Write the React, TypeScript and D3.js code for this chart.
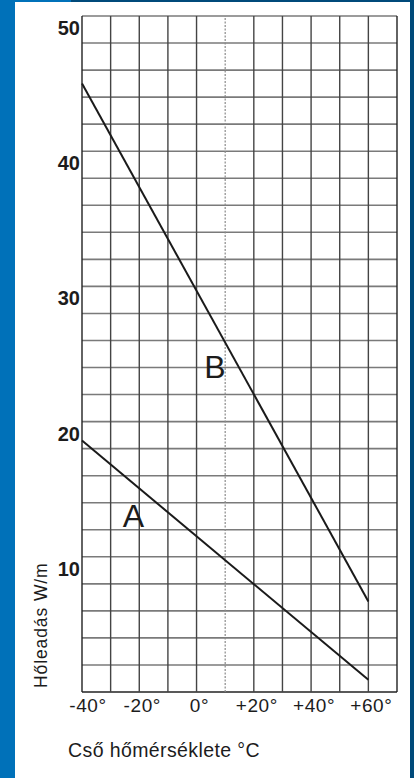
import React, { useEffect, useRef } from "react";
import * as d3 from "d3";

// temperatures (°C) at the ends of each line
const lineTemps = [-40, 60];
const seriesA = [18.6, 0.9];
const seriesB = [45, 6.7];

const xTicks = [-40, -20, 0, 20, 40, 60];
const xTickLabels = ["-40°", "-20°", "0°", "+20°", "+40°", "+60°"];
const yTicks = [10, 20, 30, 40, 50];

const seriesNames = ["A", "B"];
const labelTemps = [-22, 6.4];
const labelValues = [12.2, 23.2];

const xTitle = "Cső hőmérséklete °C";
const yTitle = "Hőleadás W/m";

const App = () => {
    const svgRef = useRef<SVGSVGElement>(null);

    useEffect(() => {
        const svg = d3.select(svgRef.current);
        svg.selectAll("*").remove();

        const width = 414, height = 778;
        const margin = { top: 16, right: 17, bottom: 86, left: 82 };
        const font = "'Liberation Sans', Arial, sans-serif";
        const ink = "#1c1c1c";

        // frame
        svg.append("rect").attr("width", width).attr("height", height).attr("fill", "#fff");
        svg.append("rect").attr("x", 0).attr("y", 0).attr("width", 15).attr("height", height).attr("fill", "#0071b9");
        svg.append("rect").attr("x", 0).attr("y", 0).attr("width", 71).attr("height", 2).attr("fill", "#0071b9");
        svg.append("rect").attr("x", 71).attr("y", 0).attr("width", width - 71).attr("height", 2).attr("fill", "#004a7a");
        svg.append("rect").attr("x", 410).attr("y", 0).attr("width", 4).attr("height", height).attr("fill", "#004a7a");

        const x = d3.scaleLinear().domain([-40, 70]).range([margin.left, width - margin.right]);
        const y = d3.scaleLinear().domain([0, 50]).range([height - margin.bottom, margin.top]);

        // horizontal grid
        svg.append("g")
            .selectAll("line")
            .data(d3.range(0, 51, 2))
            .join("line")
            .attr("x1", x(-40)).attr("x2", x(70))
            .attr("y1", d => y(d)).attr("y2", d => y(d))
            .attr("stroke", d => d === 0 ? "#222" : "#7a7a7a")
            .attr("stroke-width", d => d === 0 ? 1.4 : 1.6);

        // vertical grid
        svg.append("g")
            .selectAll("line")
            .data(d3.range(-40, 71, 10))
            .join("line")
            .attr("x1", d => x(d)).attr("x2", d => x(d))
            .attr("y1", y(0)).attr("y2", y(50))
            .attr("stroke", d => d === 10 ? "#8a8a8a" : (d === -40 || d === 70 ? "#222" : "#444"))
            .attr("stroke-width", d => d === 10 ? 1.2 : 1.4)
            .attr("stroke-dasharray", d => d === 10 ? "2,1.5" : null);

        // y tick labels
        svg.append("g")
            .selectAll("text")
            .data(yTicks)
            .join("text")
            .attr("x", x(-40) - 2)
            .attr("y", d => y(d) + 19)
            .attr("text-anchor", "end")
            .attr("font-family", font)
            .attr("font-weight", "bold")
            .attr("font-size", 20)
            .attr("fill", ink)
            .text(d => d);

        // x tick labels
        svg.append("g")
            .selectAll("text")
            .data(xTicks)
            .join("text")
            .attr("x", (d, i) => x(d) + (i === 0 ? 6 : 3))
            .attr("y", y(0) + 20)
            .attr("text-anchor", "middle")
            .attr("font-family", font)
            .attr("font-size", 19)
            .attr("letter-spacing", 0.6)
            .attr("fill", ink)
            .text((d, i) => xTickLabels[i]);

        // titles
        svg.append("text")
            .attr("x", 68)
            .attr("y", 757)
            .attr("font-family", font)
            .attr("font-size", 19.5)
            .attr("letter-spacing", 0.4)
            .attr("fill", ink)
            .text(xTitle);

        svg.append("text")
            .attr("transform", `translate(47,688) rotate(-90)`)
            .attr("font-family", font)
            .attr("font-size", 17.5)
            .attr("letter-spacing", 0.9)
            .attr("fill", ink)
            .text(yTitle);

        // lines
        const line = d3.line<number>()
            .x((d, i) => x(lineTemps[i]))
            .y(d => y(d));

        [seriesA, seriesB].forEach(s => {
            svg.append("path")
                .datum(s)
                .attr("fill", "none")
                .attr("stroke", "#1a1a1a")
                .attr("stroke-width", 2)
                .attr("d", line);
        });

        // series labels
        svg.append("g")
            .selectAll("text")
            .data(seriesNames)
            .join("text")
            .attr("x", (d, i) => x(labelTemps[i]))
            .attr("y", (d, i) => y(labelValues[i]))
            .attr("text-anchor", "middle")
            .attr("font-family", font)
            .attr("font-size", 32)
            .attr("fill", ink)
            .text(d => d);
    }, []);

    return (
        <svg
            ref={svgRef}
            width={414}
            height={778}
            style={{ position: "absolute", left: 0, top: 0 }}
        ></svg>
    );
};

export default App;
